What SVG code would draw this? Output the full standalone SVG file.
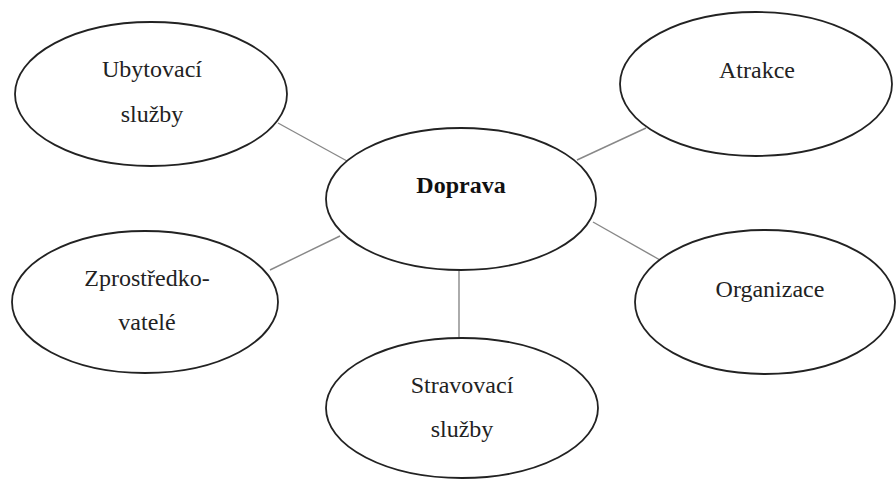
<svg xmlns="http://www.w3.org/2000/svg" width="896" height="479" viewBox="0 0 896 479">
<style>
.n{fill:#fff;stroke:#222;stroke-width:1.8}
.t{font-family:"Liberation Serif","Times New Roman",serif;font-size:24px;fill:#222;text-anchor:middle}
.b{font-weight:bold;fill:#111}
.c line{stroke:#888;stroke-width:1.4}
</style>
<rect width="896" height="479" fill="#fff"/>
<g class="c" id="connectors">
<line x1="278" y1="123" x2="347" y2="161"/>
<line x1="577" y1="160" x2="646" y2="128"/>
<line x1="593" y1="222" x2="660" y2="260"/>
<line x1="270" y1="270" x2="340" y2="236"/>
<line x1="459" y1="271" x2="459" y2="339"/>
</g>
<g id="ubytovaci">
<ellipse class="n" cx="151" cy="94" rx="136" ry="72"/>
<text class="t" x="152" y="77">Ubytovací</text>
<text class="t" x="152" y="122">služby</text>
</g>
<g id="atrakce">
<ellipse class="n" cx="756" cy="84" rx="136" ry="72"/>
<text class="t" x="757" y="78">Atrakce</text>
</g>
<g id="doprava">
<ellipse class="n" cx="461" cy="199" rx="135" ry="71"/>
<text class="t b" x="461" y="193">Doprava</text>
</g>
<g id="zprostredkovatele">
<ellipse class="n" cx="145" cy="302" rx="133" ry="71"/>
<text class="t" x="147" y="286">Zprostředko-</text>
<text class="t" x="147" y="330">vatelé</text>
</g>
<g id="organizace">
<ellipse class="n" cx="765" cy="302" rx="130" ry="72"/>
<text class="t" x="770" y="297">Organizace</text>
</g>
<g id="stravovaci">
<ellipse class="n" cx="462" cy="408" rx="136" ry="70"/>
<text class="t" x="462" y="393">Stravovací</text>
<text class="t" x="462" y="437">služby</text>
</g>
</svg>
